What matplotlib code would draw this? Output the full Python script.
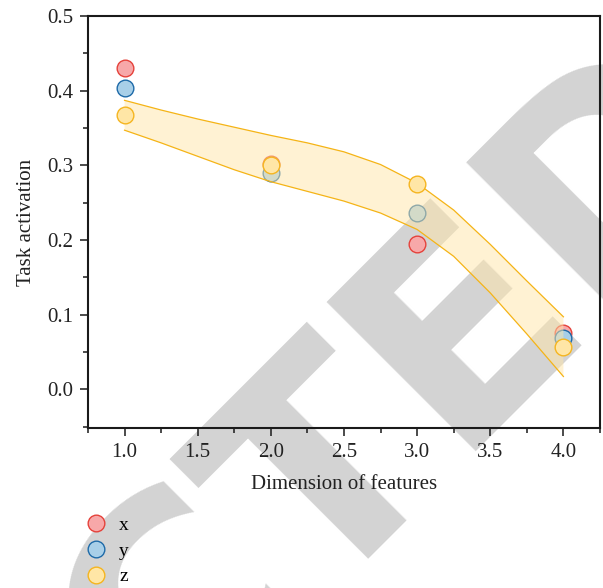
import matplotlib
matplotlib.use("Agg")
import matplotlib.pyplot as plt
from matplotlib.lines import Line2D
from matplotlib.ticker import FormatStrFormatter

# Feature dimensions and task activation per axis
dims = [1.0, 2.0, 3.0, 4.0]
act_x = [0.430, 0.302, 0.194, 0.075]
act_y = [0.404, 0.289, 0.236, 0.069]
act_z = [0.367, 0.300, 0.275, 0.057]

# Fitted band for z (upper / lower edges)
band_dims = [1.0, 1.25, 1.5, 1.75, 2.0, 2.25, 2.5, 2.75, 3.0, 3.25, 3.5, 3.75, 4.0]
band_upper = [0.387, 0.374, 0.362, 0.351, 0.340, 0.330, 0.318, 0.301, 0.276, 0.240, 0.194, 0.145, 0.097]
band_lower = [0.347, 0.330, 0.312, 0.294, 0.278, 0.265, 0.252, 0.236, 0.214, 0.178, 0.129, 0.074, 0.017]

x_ticks = [1.0, 1.5, 2.0, 2.5, 3.0, 3.5, 4.0]
y_ticks = [0.0, 0.1, 0.2, 0.3, 0.4, 0.5]

series_names = ["x", "y", "z"]
face_cols = ["#f7a8a9", "#a8cfe8", "#ffe6a6"]
edge_cols = ["#e5423b", "#1e6aa8", "#f5b520"]

plt.rcParams["font.family"] = ["Liberation Serif", "DejaVu Serif"]
plt.rcParams["font.size"] = 15

fig = plt.figure(figsize=(6.03, 5.88), dpi=100)
fig.patch.set_facecolor("white")
ax = fig.add_axes([0.1459, 0.2721, 0.8491, 0.7007])
ax.set_zorder(1)
ax.patch.set_alpha(0)

# Watermark behind the plot
fig.text(1.260, 0.760, "RETRACTED", family="DejaVu Sans", fontweight="bold",
         fontsize=208, color="#d3d3d3", rotation=45, rotation_mode="anchor",
         ha="right", va="baseline", zorder=-1)

msize = 144
ax.scatter(dims, act_x, s=msize, facecolor=face_cols[0], edgecolor=edge_cols[0],
           linewidth=1.0, zorder=3)
ax.scatter(dims, act_y, s=msize, facecolor=face_cols[1], edgecolor=edge_cols[1],
           linewidth=1.0, zorder=3)
ax.fill_between(band_dims, band_lower, band_upper, facecolor="#ffe6a9",
                alpha=0.5, linewidth=0, zorder=4)
ax.plot(band_dims, band_upper, color="#f5b416", linewidth=0.9, zorder=4)
ax.plot(band_dims, band_lower, color="#f5b416", linewidth=0.9, zorder=4)
ax.scatter(dims, act_z, s=msize, facecolor=face_cols[2], edgecolor=edge_cols[2],
           linewidth=1.0, zorder=5)

ax.set_xlim(0.75, 4.25)
ax.set_ylim(-0.052, 0.5)
ax.set_xticks(x_ticks)
ax.set_yticks(y_ticks)
ax.set_xticks([0.75, 1.25, 1.75, 2.25, 2.75, 3.25, 3.75, 4.25], minor=True)
ax.set_yticks([-0.05, 0.05, 0.15, 0.25, 0.35, 0.45], minor=True)
ax.xaxis.set_major_formatter(FormatStrFormatter("%.1f"))
ax.yaxis.set_major_formatter(FormatStrFormatter("%.1f"))

for sp in ax.spines.values():
    sp.set_linewidth(1.5)
    sp.set_color("#1a1a1a")
ax.tick_params(which="major", direction="out", length=5.8, width=1.1,
               color="#1a1a1a", pad=5, labelsize=15, labelcolor="#222222")
ax.tick_params(which="minor", direction="out", length=3.5, width=1.1, color="#1a1a1a")
ax.tick_params(top=False, right=False, which="both")

ax.set_xlabel("Dimension of features", fontsize=15, color="#222222", labelpad=9)
ax.set_ylabel("Task activation", fontsize=15, color="#222222", labelpad=8)

handles = [Line2D([], [], linestyle="none", marker="o", markersize=12,
                  markerfacecolor=f, markeredgecolor=e, markeredgewidth=1.0)
           for f, e in zip(face_cols, edge_cols)]
ax.legend(handles, series_names, loc="upper left", bbox_to_anchor=(0.143, 0.122),
          bbox_transform=fig.transFigure, frameon=False, handlelength=1.0,
          handletextpad=0.7, labelspacing=0.42, borderaxespad=0, borderpad=0,
          fontsize=14)

fig.savefig("out.png", dpi=100, facecolor="white")
